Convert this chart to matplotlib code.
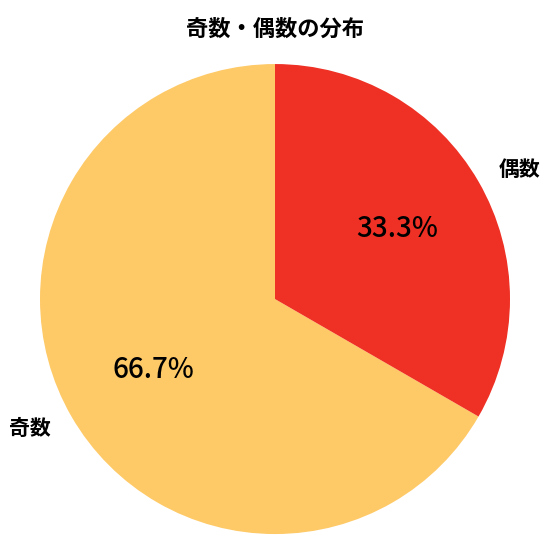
import matplotlib
matplotlib.use("Agg")
import matplotlib.pyplot as plt

plt.rcParams['font.family'] = ['Noto Sans CJK JP', 'DejaVu Sans']

labels = ['奇数', '偶数']
counts = [2, 1]
colors = ['#FEC967', '#EF3024']

fig, ax = plt.subplots(figsize=(5.5, 5.6), dpi=100)
wedges, texts, autotexts = ax.pie(
    counts, labels=labels, colors=colors, startangle=90,
    autopct='%1.1f%%', pctdistance=0.6, labeldistance=1.1,
    textprops={'fontsize': 15, 'fontweight': 'bold'},
)
for t in autotexts:
    t.set_fontsize(20)
    t.set_fontweight('medium')
ax.set_title('奇数・偶数の分布', fontsize=16, fontweight='bold')
ax.axis('equal')
plt.subplots_adjust(left=0.03, right=0.97, top=0.921, bottom=0.011)
plt.savefig('out.png', dpi=100)
